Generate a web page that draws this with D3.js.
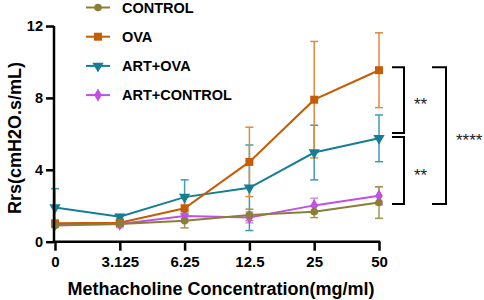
<!DOCTYPE html>
<html><head><meta charset="utf-8">
<script src="https://cdn.jsdelivr.net/npm/d3@7"></script>
<style>html,body{margin:0;padding:0;background:#fff;}svg{display:block;}</style>
</head><body><div id="chart"></div>
<script>
const categories = ["0","3.125","6.25","12.5","25","50"];
const seriesNames = ["CONTROL","OVA","ART+OVA","ART+CONTROL"];
const controlMean = [0.90, 0.98, 1.17, 1.49, 1.67, 2.18];
const controlSD   = [0.10, 0.10, 0.40, 0.32, 0.33, 0.88];
const ovaMean     = [1.02, 1.05, 1.86, 4.44, 7.90, 9.54];
const ovaSD       = [0.15, 0.10, 0.75, 1.93, 3.24, 2.08];
const artOvaMean  = [1.90, 1.39, 2.48, 3.00, 4.96, 5.75];
const artOvaSD    = [1.05, 0.12, 0.96, 2.38, 1.52, 1.30];
const artCtrlMean = [0.95, 0.98, 1.43, 1.35, 2.02, 2.55];
const artCtrlSD   = [0.10, 0.20, 0.15, 0.30, 0.40, 0.50];
const yTicks = [0, 4, 8, 12];
// significance brackets: [top value, bottom value, label]
const sigBrackets = [[9.71, 6.05, "**"], [5.82, 2.10, "**"], [9.71, 2.10, "****"]];

const W = 484, H = 300;
const svg = d3.select("#chart").append("svg").attr("width", W).attr("height", H);
const font = "'Liberation Sans', Arial, Helvetica, sans-serif";

const x = d3.scalePoint().domain(categories).range([55, 379]).padding(0);
const y = d3.scaleLinear().domain([0, 12]).range([241.7, 26]);

const series = [
  {name: seriesNames[0], mean: controlMean, sd: controlSD, color: "#8b7e38", err: "#a39650", sym: d3.symbolCircle, size: 45},
  {name: seriesNames[1], mean: ovaMean, sd: ovaSD, color: "#c65c04", err: "#e08a3c", sym: d3.symbolSquare, size: 64},
  {name: seriesNames[2], mean: artOvaMean, sd: artOvaSD, color: "#167d96", err: "#3c9db4", sym: d3.symbolTriangle, size: 55, flip: true},
  {name: seriesNames[3], mean: artCtrlMean, sd: artCtrlSD, color: "#c050e6", err: "#d68cf0", sym: d3.symbolDiamond, size: 50}
];
const drawOrder = [3, 2, 1, 0];

// error bars
drawOrder.forEach(i => {
  const s = series[i];
  const g = svg.append("g");
  categories.forEach((c, k) => {
    const cx = x(c), hi = y(s.mean[k] + s.sd[k]), lo = y(Math.max(0, s.mean[k] - s.sd[k]));
    g.append("line").attr("x1", cx).attr("x2", cx).attr("y1", hi).attr("y2", lo).attr("stroke", s.err).attr("stroke-width", 1.5);
    [hi, lo].forEach(yy => g.append("line").attr("x1", cx - 4).attr("x2", cx + 4).attr("y1", yy).attr("y2", yy).attr("stroke", s.err).attr("stroke-width", 1.5));
  });
});

// lines & markers
drawOrder.forEach(i => {
  const s = series[i];
  const line = d3.line().x((d, k) => x(categories[k])).y(d => y(d));
  svg.append("path").datum(s.mean).attr("d", line).attr("fill", "none").attr("stroke", s.color).attr("stroke-width", 2);
  svg.append("g").selectAll("path").data(s.mean).join("path")
    .attr("d", d3.symbol().type(s.sym).size(s.size))
    .attr("transform", (d, k) => `translate(${x(categories[k])},${y(d)})` + (s.flip ? " rotate(180)" : ""))
    .attr("fill", s.color);
});

// axes
const yAxis = d3.axisLeft(y).tickValues(yTicks).tickSize(8).tickPadding(3).tickFormat(d3.format("d"));
const gy = svg.append("g").attr("transform", "translate(54,0)").call(yAxis);
gy.select(".domain").attr("stroke-width", 2.5).attr("d", `M0,${y(12)}V${y(0) + 1.2}`);
gy.selectAll(".tick line").attr("stroke-width", 2.5);
gy.selectAll("text").attr("font-family", font).attr("font-weight", "bold").attr("font-size", 14.5).attr("fill", "#000");

const xAxis = d3.axisBottom(x).tickSize(9).tickPadding(6);
const gx = svg.append("g").attr("transform", `translate(0,${y(0)})`).call(xAxis);
gx.select(".domain").attr("stroke-width", 2.5).attr("d", `M52.8,0H${x("50") + 1.2}`);
gx.selectAll(".tick line").attr("stroke-width", 2.5);
gx.selectAll("text").attr("font-family", font).attr("font-weight", "bold").attr("font-size", 15).attr("fill", "#000");

// axis titles
svg.append("text").attr("x", 221).attr("y", 295).attr("text-anchor", "middle")
  .attr("font-family", font).attr("font-weight", "bold").attr("font-size", 18).text("Methacholine Concentration(mg/ml)");
svg.append("text").attr("transform", "translate(21,138) rotate(-90)").attr("text-anchor", "middle")
  .attr("font-family", font).attr("font-weight", "bold").attr("font-size", 18).text("Rrs(cmH2O.s/mL)");

// legend
series.forEach((s, i) => {
  const cy = 7.5 + i * 29.2;
  const g = svg.append("g");
  g.append("line").attr("x1", 86).attr("x2", 110).attr("y1", cy).attr("y2", cy).attr("stroke", s.color).attr("stroke-width", 2);
  g.append("path").attr("d", d3.symbol().type(s.sym).size(s.size))
    .attr("transform", `translate(98,${cy})` + (s.flip ? " rotate(180)" : "")).attr("fill", s.color);
  g.append("text").attr("x", 122).attr("y", cy + 5).attr("font-family", font).attr("font-weight", "bold")
    .attr("font-size", 14.5).text(s.name);
});

// significance brackets
const bx = [[392, 404], [392, 404], [432, 446]];
sigBrackets.forEach((b, i) => {
  const [x0, x1] = bx[i];
  const yt = y(b[0]), yb = y(b[1]);
  svg.append("path").attr("d", `M${x0},${yt}H${x1}V${yb}H${x0}`).attr("fill", "none").attr("stroke", "#000").attr("stroke-width", 2);
  svg.append("text").attr("x", x1 + 10).attr("y", (yt + yb) / 2 + 10).attr("font-family", font)
    .attr("font-size", 17).attr("fill", "#222").text(b[2]);
});
</script></body></html>
